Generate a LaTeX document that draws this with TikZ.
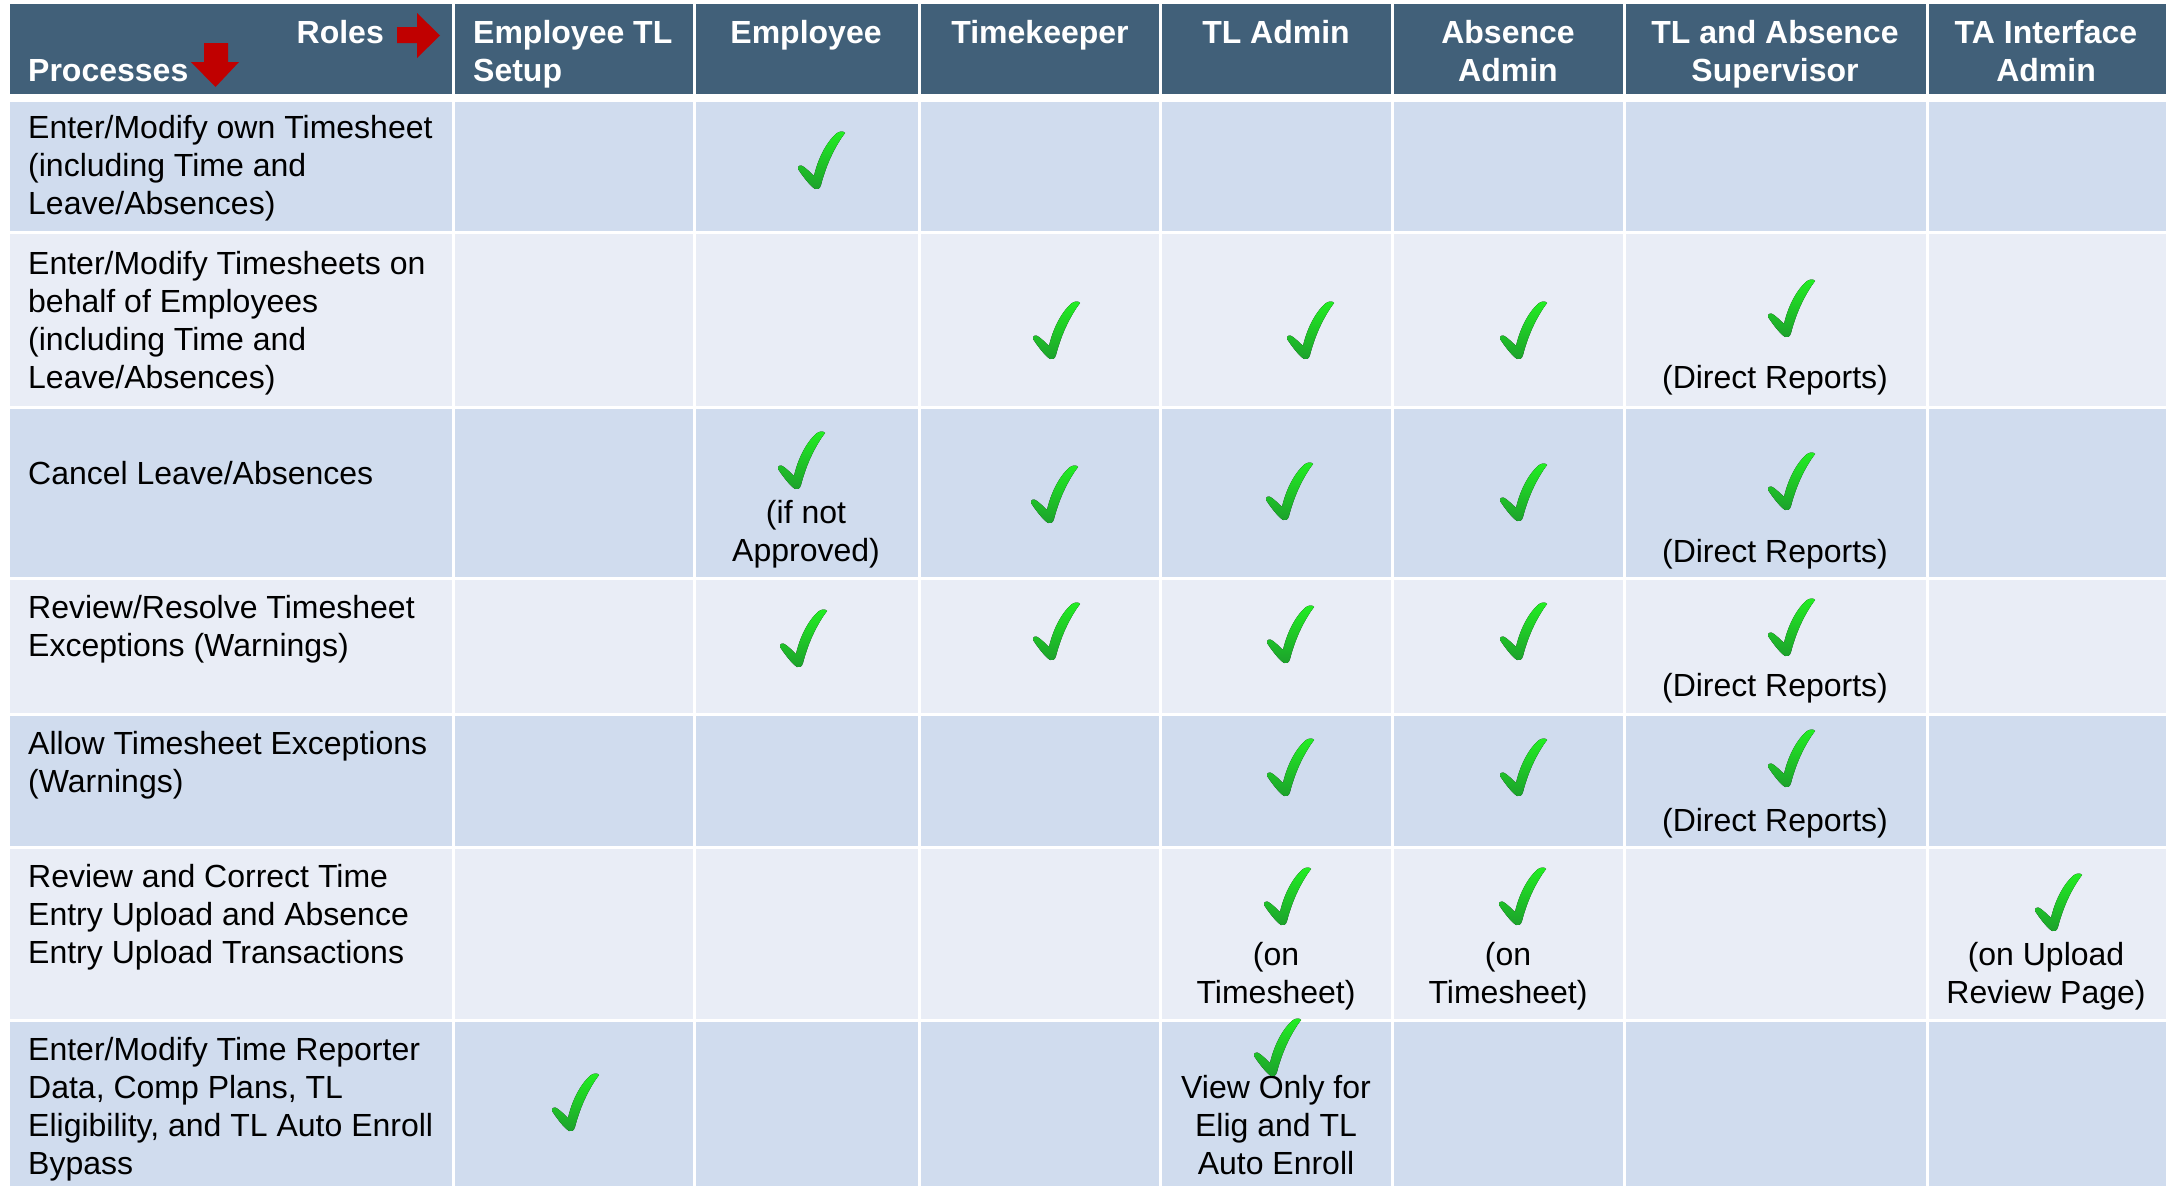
\documentclass[tikz,border=0pt]{standalone}
\usepackage{fontspec}
\setmainfont{Liberation Sans}
\definecolor{hdrbg}{HTML}{416079}
\definecolor{rowA}{HTML}{D0DCEE}
\definecolor{rowB}{HTML}{E9EDF6}
\definecolor{arrowred}{HTML}{C00000}
\definecolor{chkA}{HTML}{22EE22}
\definecolor{chkB}{HTML}{1CA02C}
\newcommand\lcell[1]{\parbox[t]{600pt}{\raggedright #1}}
\newcommand\ccell[1]{\parbox[t]{400pt}{\centering #1}}
\begin{document}
\begin{tikzpicture}[x=1pt,y=-1pt,
  txt/.style={inner sep=0pt, font=\fontsize{32}{38}\selectfont},
  hdr/.style={inner sep=0pt, font=\fontsize{32}{38}\selectfont\bfseries, text=white},
  gridline/.style={white, line width=3pt},
  chk/.pic={\fill[top color=chkA, bottom color=chkB]
     (0,1) .. controls (-6,-3) and (-13,-13) .. (-17,-19)
     .. controls (-18,-22) and (-14,-24) .. (-11,-21)
     .. controls (-7,-18) and (-4,-15) .. (-1,-12)
     .. controls (2,-26) and (10,-45) .. (22,-55)
     .. controls (25,-57) and (29,-57) .. (30,-55)
     .. controls (21,-43) and (12,-26) .. (6,-3)
     .. controls (5,1) and (2,2) .. (0,1) -- cycle;}
]
\useasboundingbox (0,0) rectangle (2175,1186);
\fill[white] (0,0) rectangle (2175,1186);
% bands
\fill[hdrbg] (10,4) rectangle (2166,94);
\fill[rowA] (10,102) rectangle (2166,231);
\fill[rowB] (10,234) rectangle (2166,406);
\fill[rowA] (10,409) rectangle (2166,577);
\fill[rowB] (10,580) rectangle (2166,713);
\fill[rowA] (10,716) rectangle (2166,846);
\fill[rowB] (10,849) rectangle (2166,1019);
\fill[rowA] (10,1022) rectangle (2166,1186);
\foreach \x in {453,694,919,1160,1392,1624,1927}
  \draw[gridline] (\x,0) -- (\x,1186);
% header
\node[hdr, anchor=base east] (roles) at (384,43) {Roles};
\node[hdr, anchor=base west] (proc) at (28,81) {Processes};
\fill[arrowred] (397,27) -- (417,27) -- (417,13) -- (440,35.5) -- (417,58) -- (417,43) -- (397,43) -- cycle;
\fill[arrowred] (204,43) -- (228,43) -- (228,62) -- (239,62) -- (215.5,87) -- (191,62) -- (204,62) -- cycle;
\node[hdr, anchor=base west] (hETS) at (473,43) {\lcell{Employee TL\\Setup}};
\node[hdr, anchor=base] (hEmp) at (806,43) {Employee};
\node[hdr, anchor=base] (hTK) at (1040,43) {Timekeeper};
\node[hdr, anchor=base] (hTLA) at (1276,43) {TL Admin};
\node[hdr, anchor=base] (hAA) at (1508,43) {\ccell{Absence\\Admin}};
\node[hdr, anchor=base] (hSup) at (1775,43) {\ccell{TL and Absence\\Supervisor}};
\node[hdr, anchor=base] (hTAI) at (2046,43) {\ccell{TA Interface\\Admin}};
% processes
\node[txt, anchor=base west] (p1) at (28,138) {\lcell{Enter/Modify own Timesheet\\(including Time and\\Leave/Absences)}};
\node[txt, anchor=base west] (p2) at (28,274) {\lcell{Enter/Modify Timesheets on\\behalf of Employees\\(including Time and\\Leave/Absences)}};
\node[txt, anchor=base west] (p3) at (28,484) {Cancel Leave/Absences};
\node[txt, anchor=base west] (p4) at (28,618) {\lcell{Review/Resolve Timesheet\\Exceptions (Warnings)}};
\node[txt, anchor=base west] (p5) at (28,754) {\lcell{Allow Timesheet Exceptions\\(Warnings)}};
\node[txt, anchor=base west] (p6) at (28,887) {\lcell{Review and Correct Time\\Entry Upload and Absence\\Entry Upload Transactions}};
\node[txt, anchor=base west] (p7) at (28,1060) {\lcell{Enter/Modify Time Reporter\\Data, Comp Plans, TL\\Eligibility, and TL Auto Enroll\\Bypass}};
% notes
\node[txt, anchor=base] (n2s) at (1775,388) {(Direct Reports)};
\node[txt, anchor=base] (n3e) at (806,523) {\ccell{(if not\\Approved)}};
\node[txt, anchor=base] (n3s) at (1775,562) {(Direct Reports)};
\node[txt, anchor=base] (n4s) at (1775,696) {(Direct Reports)};
\node[txt, anchor=base] (n5s) at (1775,831) {(Direct Reports)};
\node[txt, anchor=base] (n6t) at (1276,965) {\ccell{(on\\Timesheet)}};
\node[txt, anchor=base] (n6a) at (1508,965) {\ccell{(on\\Timesheet)}};
\node[txt, anchor=base] (n6i) at (2046,965) {\ccell{(on Upload\\Review Page)}};
\node[txt, anchor=base] (n7t) at (1276,1098) {\ccell{View Only for\\Elig and TL\\Auto Enroll}};
% checks
\pic (c1e) at (815,188) {chk};
\pic (c2k) at (1050,358) {chk};
\pic (c2t) at (1304,358) {chk};
\pic (c2a) at (1517,358) {chk};
\pic (c2s) at (1785,336) {chk};
\pic (c3e) at (795,488) {chk};
\pic (c3k) at (1048,522) {chk};
\pic (c3t) at (1283,519) {chk};
\pic (c3a) at (1517,520) {chk};
\pic (c3s) at (1785,509) {chk};
\pic (c4e) at (797,666) {chk};
\pic (c4k) at (1050,659) {chk};
\pic (c4t) at (1284,662) {chk};
\pic (c4a) at (1517,659) {chk};
\pic (c4s) at (1785,655) {chk};
\pic (c5t) at (1284,795) {chk};
\pic (c5a) at (1517,795) {chk};
\pic (c5s) at (1785,786) {chk};
\pic (c6t) at (1281,924) {chk};
\pic (c6a) at (1516,924) {chk};
\pic (c6i) at (2052,930) {chk};
\pic (c7s) at (569,1130) {chk};
\pic (c7t) at (1271,1075) {chk};
\end{tikzpicture}
\end{document}
